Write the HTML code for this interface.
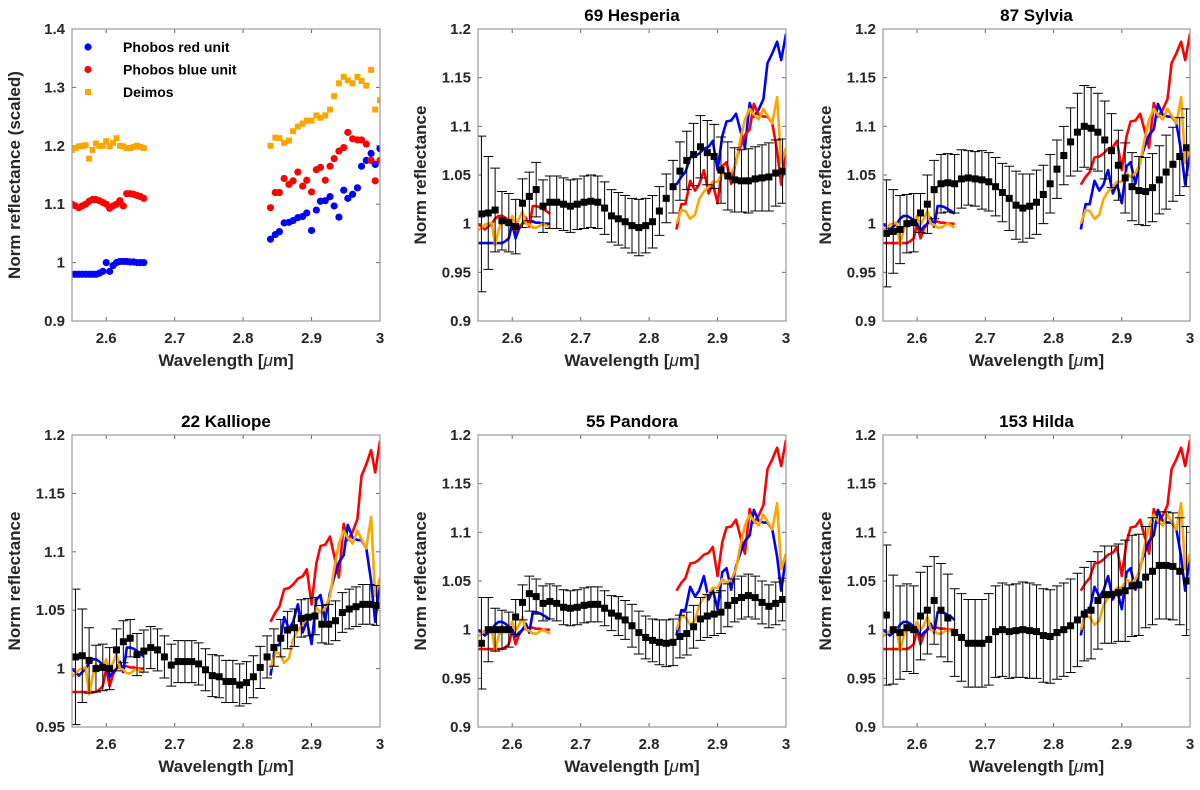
<!DOCTYPE html>
<html><head><meta charset="utf-8">
<style>
body{margin:0;background:#fff;}
svg{display:block;font-family:"Liberation Sans",Arial,sans-serif;}
.tk{font-size:15px;font-weight:bold;fill:#262626;}
.lab{font-size:17px;font-weight:bold;fill:#262626;}
.ttl{font-size:17px;font-weight:bold;fill:#000;}
.leg{font-size:14px;font-weight:bold;fill:#000;}
</style></head>
<body>
<svg id="fig" width="1200" height="790" viewBox="0 0 1200 790"></svg>
<script>
// ---- shared spectral data ----
const xLeft=[2.55,2.555,2.56,2.565,2.57,2.575,2.58,2.585,2.59,2.595,2.6,2.605,2.61,2.615,2.62,2.625,2.63,2.635,2.64,2.645,2.65,2.655];
const xRight=[2.84,2.847,2.853,2.86,2.867,2.873,2.88,2.887,2.893,2.9,2.907,2.913,2.92,2.927,2.933,2.94,2.947,2.953,2.96,2.967,2.973,2.98,2.987,2.993,3.0];
const redUnitLeft=[0.98,0.98,0.98,0.98,0.98,0.98,0.98,0.98,0.982,0.985,1.0,0.985,0.995,1.0,1.002,1.002,1.002,1.001,1.001,1.0,1.0,1.0];
const redUnitRight=[1.04,1.048,1.053,1.068,1.069,1.072,1.077,1.079,1.085,1.055,1.09,1.105,1.106,1.113,1.097,1.078,1.124,1.11,1.117,1.128,1.165,1.175,1.187,1.168,1.195];
const blueUnitLeft=[1.1,1.097,1.094,1.097,1.1,1.105,1.108,1.108,1.106,1.103,1.1,1.093,1.097,1.1,1.106,1.097,1.118,1.118,1.117,1.115,1.113,1.11];
const blueUnitRight=[1.094,1.12,1.12,1.144,1.134,1.14,1.155,1.131,1.141,1.121,1.159,1.163,1.141,1.165,1.178,1.191,1.197,1.223,1.212,1.21,1.21,1.203,1.175,1.14,1.175];
const deimosLeft=[1.193,1.196,1.199,1.2,1.201,1.178,1.193,1.204,1.2,1.2,1.208,1.199,1.205,1.213,1.2,1.199,1.196,1.196,1.198,1.2,1.198,1.196];
const deimosRight=[1.2,1.214,1.213,1.205,1.209,1.225,1.233,1.238,1.243,1.243,1.252,1.248,1.252,1.262,1.285,1.307,1.318,1.312,1.307,1.318,1.311,1.303,1.33,1.262,1.278];
const blueUnitOffset=0.1, deimosOffset=0.2;
// ---- asteroid data ----
const xAst=[2.555,2.565,2.575,2.585,2.595,2.605,2.615,2.625,2.635,2.645,2.655,2.665,2.675,2.685,2.695,2.705,2.715,2.725,2.735,2.745,2.755,2.765,2.775,2.785,2.795,2.805,2.815,2.825,2.835,2.845,2.855,2.865,2.875,2.885,2.895,2.905,2.915,2.925,2.935,2.945,2.955,2.965,2.975,2.985,2.995];
const hesperiaVal=[1.01,1.011,1.014,1.003,1.001,0.997,1.021,1.028,1.035,1.018,1.022,1.022,1.02,1.018,1.02,1.022,1.023,1.022,1.016,1.008,1.005,1.002,0.998,0.996,0.998,1.002,1.013,1.026,1.038,1.054,1.065,1.071,1.079,1.073,1.069,1.055,1.049,1.045,1.044,1.044,1.046,1.047,1.048,1.052,1.054];
const hesperiaErr=[0.08,0.058,0.043,0.03,0.03,0.028,0.025,0.025,0.028,0.027,0.027,0.027,0.027,0.027,0.026,0.027,0.027,0.027,0.027,0.027,0.027,0.027,0.028,0.029,0.028,0.027,0.025,0.025,0.027,0.03,0.03,0.032,0.032,0.033,0.033,0.034,0.035,0.033,0.032,0.033,0.033,0.034,0.035,0.034,0.033];
const sylviaVal=[0.99,0.992,0.994,1.0,1.001,1.011,1.02,1.035,1.041,1.042,1.041,1.046,1.047,1.046,1.045,1.043,1.038,1.032,1.026,1.019,1.016,1.018,1.022,1.03,1.041,1.056,1.07,1.084,1.094,1.1,1.098,1.094,1.086,1.075,1.06,1.047,1.038,1.034,1.033,1.037,1.045,1.053,1.061,1.069,1.078];
const sylviaErr=[0.055,0.043,0.035,0.03,0.03,0.02,0.03,0.03,0.03,0.03,0.03,0.03,0.028,0.028,0.03,0.03,0.03,0.03,0.033,0.035,0.035,0.033,0.033,0.03,0.03,0.03,0.03,0.035,0.04,0.042,0.042,0.04,0.04,0.038,0.036,0.036,0.035,0.035,0.035,0.035,0.035,0.038,0.038,0.04,0.04];
const kalliopeVal=[1.01,1.011,1.007,1.0,1.001,1.0,1.016,1.023,1.026,1.012,1.015,1.018,1.016,1.01,1.003,1.006,1.006,1.006,1.004,0.999,0.994,0.993,0.989,0.989,0.986,0.988,0.993,1.001,1.01,1.018,1.026,1.033,1.035,1.043,1.044,1.045,1.038,1.038,1.041,1.048,1.051,1.053,1.055,1.055,1.054];
const kalliopeErr=[0.058,0.04,0.028,0.02,0.02,0.018,0.018,0.018,0.016,0.018,0.018,0.018,0.018,0.018,0.018,0.018,0.018,0.018,0.018,0.018,0.018,0.018,0.018,0.018,0.018,0.018,0.018,0.018,0.018,0.016,0.016,0.016,0.016,0.016,0.016,0.016,0.016,0.017,0.017,0.017,0.017,0.017,0.017,0.017,0.017];
const pandoraVal=[0.986,1.0,1.0,1.0,1.0,1.013,1.028,1.037,1.034,1.027,1.029,1.027,1.023,1.022,1.023,1.025,1.026,1.026,1.022,1.017,1.014,1.01,1.004,0.997,0.992,0.989,0.987,0.986,0.987,0.993,0.996,1.003,1.011,1.014,1.016,1.018,1.025,1.03,1.033,1.035,1.033,1.028,1.024,1.027,1.031];
const pandoraErr=[0.047,0.033,0.022,0.02,0.018,0.018,0.018,0.018,0.018,0.018,0.018,0.018,0.018,0.018,0.018,0.018,0.018,0.018,0.018,0.018,0.02,0.02,0.022,0.022,0.022,0.022,0.023,0.024,0.024,0.022,0.022,0.022,0.022,0.022,0.022,0.022,0.022,0.022,0.022,0.022,0.022,0.022,0.022,0.022,0.022];
const hildaVal=[1.015,1.0,0.997,1.002,1.0,1.014,1.02,1.03,1.02,1.012,0.997,0.992,0.986,0.986,0.986,0.99,0.998,1.0,0.998,0.999,1.0,0.999,0.998,0.994,0.993,0.997,1.0,1.004,1.01,1.016,1.02,1.03,1.036,1.036,1.038,1.04,1.045,1.046,1.054,1.06,1.066,1.066,1.065,1.06,1.05];
const hildaErr=[0.072,0.056,0.048,0.045,0.045,0.045,0.045,0.045,0.048,0.045,0.045,0.045,0.045,0.045,0.045,0.047,0.047,0.048,0.048,0.048,0.049,0.049,0.048,0.048,0.048,0.048,0.048,0.048,0.048,0.048,0.05,0.05,0.05,0.05,0.05,0.052,0.052,0.052,0.052,0.055,0.055,0.055,0.055,0.055,0.056];
const xTicks=[2.6,2.7,2.8,2.9,3.0];
const xTickLabels=["2.6","2.7","2.8","2.9","3"];

const NS="http://www.w3.org/2000/svg";
const svg=document.getElementById('fig');
function mk(tag,attrs,parent){const e=document.createElementNS(NS,tag);for(const k in attrs)e.setAttribute(k,attrs[k]);(parent||svg).appendChild(e);return e;}
function shift(arr,off){return arr.map(v=>v-off);}

function panel(p){
  const g=mk('g',{});
  
  
  const X=v=>p.x0+(v-2.55)/(0.45)*(p.x1-p.x0);
  const Y=v=>p.y1-(v-p.ymin)/(p.ymax-p.ymin)*(p.y1-p.y0);
  // x ticks
  xTicks.forEach((t,i)=>{
    mk('line',{x1:X(t),x2:X(t),y1:p.y1,y2:p.y1-4,stroke:'#666','stroke-width':1},g);
    mk('line',{x1:X(t),x2:X(t),y1:p.y0,y2:p.y0+4,stroke:'#666','stroke-width':1},g);
    const tx=mk('text',{x:X(t),y:p.y1+22,'text-anchor':'middle',class:'tk'},g);
    tx.textContent=xTickLabels[i];
    
    
  });
  p.yTicks.forEach((t,i)=>{
    mk('line',{x1:p.x0,x2:p.x0+4,y1:Y(t),y2:Y(t),stroke:'#666','stroke-width':1},g);
    mk('line',{x1:p.x1,x2:p.x1-4,y1:Y(t),y2:Y(t),stroke:'#666','stroke-width':1},g);
    const tx=mk('text',{x:p.x0-7,y:Y(t)+5,'text-anchor':'end',class:'tk'},g);
    tx.textContent=p.yTickLabels[i];
    
    
  });
  const clip='c'+p.name;
  const cp=mk('clipPath',{id:clip},g);
  mk('rect',{x:p.x0,y:p.y0,width:p.x1-p.x0,height:p.y1-p.y0},cp);
  const pg=mk('g',{'clip-path':'url(#'+clip+')'},g);
  function line(xs,ys,col,nm){
    const d=xs.map((x,i)=>(i?'L':'M')+X(x).toFixed(1)+' '+Y(ys[i]).toFixed(1)).join('');
    const e=mk('path',{d:d,fill:'none',stroke:col,'stroke-width':2.6,'stroke-linejoin':'round'},pg);
    
    
  }
  if(p.scatter){
    const sets=[[redUnitLeft.concat(redUnitRight),'#0000ff','dot','phobos-red-dot'],[blueUnitLeft.concat(blueUnitRight),'#ff0000','dot','phobos-blue-dot'],[deimosLeft.concat(deimosRight),'#ffa500','sq','deimos-point']];
    const xs=xLeft.concat(xRight);
    sets.forEach(s=>{
      s[0].forEach((v,i)=>{
        let e;
        if(s[2]==='dot') e=mk('circle',{cx:X(xs[i]),cy:Y(v),r:3.6,fill:s[1]},pg);
        else e=mk('rect',{x:X(xs[i])-3,y:Y(v)-3,width:6,height:6,fill:s[1]},pg);
        
        
      });
    });
  } else {
    const ruCol=p.swap?'#0000ff':'#ff0000', buCol=p.swap?'#ff0000':'#0000ff';
    line(xLeft,redUnitLeft,ruCol,'phobos-red-unit-line');
    line(xRight,redUnitRight,ruCol,'phobos-red-unit-line');
    line(xLeft,shift(blueUnitLeft,blueUnitOffset),buCol,'phobos-blue-unit-line');
    line(xRight,shift(blueUnitRight,blueUnitOffset),buCol,'phobos-blue-unit-line');
    line(xLeft,shift(deimosLeft,deimosOffset),'#ffa500','deimos-line');
    line(xRight,shift(deimosRight,deimosOffset),'#ffa500','deimos-line');
    p.val.forEach((v,i)=>{
      const cx=X(xAst[i]), e=p.err[i];
      const eb=mk('path',{d:`M${cx} ${Y(v-e)}L${cx} ${Y(v+e)}M${cx-5} ${Y(v-e)}L${cx+5} ${Y(v-e)}M${cx-5} ${Y(v+e)}L${cx+5} ${Y(v+e)}`,stroke:'#000','stroke-width':1,fill:'none'},pg);
      
      
      const m=mk('rect',{x:cx-3.5,y:Y(v)-3.5,width:7,height:7,fill:'#000'},pg);
      
      
    });
  }
  const box=mk('rect',{x:p.x0,y:p.y0,width:p.x1-p.x0,height:p.y1-p.y0,fill:'none',stroke:'#999','stroke-width':1.2},g);
  
  
  const xl=mk('text',{x:(p.x0+p.x1)/2,y:p.y1+45,'text-anchor':'middle',class:'lab'},g);
  xl.innerHTML='Wavelength [<tspan font-style="italic" font-weight="normal">μ</tspan>m]';
  
  
  const yl=mk('text',{x:0,y:0,'text-anchor':'middle',class:'lab',transform:`translate(${p.x0-52},${(p.y0+p.y1)/2}) rotate(-90)`},g);
  yl.textContent=p.ylabel;
  
  
  if(p.title){
    const t=mk('text',{x:(p.x0+p.x1)/2,y:p.y0-8,'text-anchor':'middle',class:'ttl'},g);
    t.textContent=p.title;
    
    
  }
  if(p.scatter){
    const leg=[['Phobos red unit','#0000ff','dot'],['Phobos blue unit','#ff0000','dot'],['Deimos','#ffa500','sq']];
    leg.forEach((l,i)=>{
      const y=47+i*22.5;
      if(l[2]==='dot') mk('circle',{cx:88,cy:y,r:3.6,fill:l[1]},g); else mk('rect',{x:85,y:y-3,width:6,height:6,fill:l[1]},g);
      const t=mk('text',{x:123,y:y+5,class:'leg'},g);
      t.textContent=l[0];
      
      
    });
  }
}
const yT1=[0.9,1.0,1.1,1.2,1.3,1.4], yL1=["0.9","1","1.1","1.2","1.3","1.4"];
const yT2=[0.9,0.95,1.0,1.05,1.1,1.15,1.2], yL2=["0.9","0.95","1","1.05","1.1","1.15","1.2"];
const yT3=[0.95,1.0,1.05,1.1,1.15,1.2], yL3=["0.95","1","1.05","1.1","1.15","1.2"];
panel({name:'panel-phobos-deimos',x0:72,x1:380,y0:29,y1:321,ymin:0.9,ymax:1.4,yTicks:yT1,yTickLabels:yL1,scatter:true,ylabel:'Norm reflectance (scaled)'});
panel({name:'panel-69-hesperia',x0:478,x1:786,y0:29,y1:321,ymin:0.9,ymax:1.2,yTicks:yT2,yTickLabels:yL2,swap:true,val:hesperiaVal,err:hesperiaErr,title:'69 Hesperia',ylabel:'Norm reflectance'});
panel({name:'panel-87-sylvia',x0:883,x1:1190,y0:29,y1:321,ymin:0.9,ymax:1.2,yTicks:yT2,yTickLabels:yL2,val:sylviaVal,err:sylviaErr,title:'87 Sylvia',ylabel:'Norm reflectance'});
panel({name:'panel-22-kalliope',x0:72,x1:380,y0:435,y1:727,ymin:0.95,ymax:1.2,yTicks:yT3,yTickLabels:yL3,val:kalliopeVal,err:kalliopeErr,title:'22 Kalliope',ylabel:'Norm reflectance'});
panel({name:'panel-55-pandora',x0:478,x1:786,y0:435,y1:727,ymin:0.9,ymax:1.2,yTicks:yT2,yTickLabels:yL2,val:pandoraVal,err:pandoraErr,title:'55 Pandora',ylabel:'Norm reflectance'});
panel({name:'panel-153-hilda',x0:883,x1:1190,y0:435,y1:727,ymin:0.9,ymax:1.2,yTicks:yT2,yTickLabels:yL2,val:hildaVal,err:hildaErr,title:'153 Hilda',ylabel:'Norm reflectance'});
</script>
</body></html>
